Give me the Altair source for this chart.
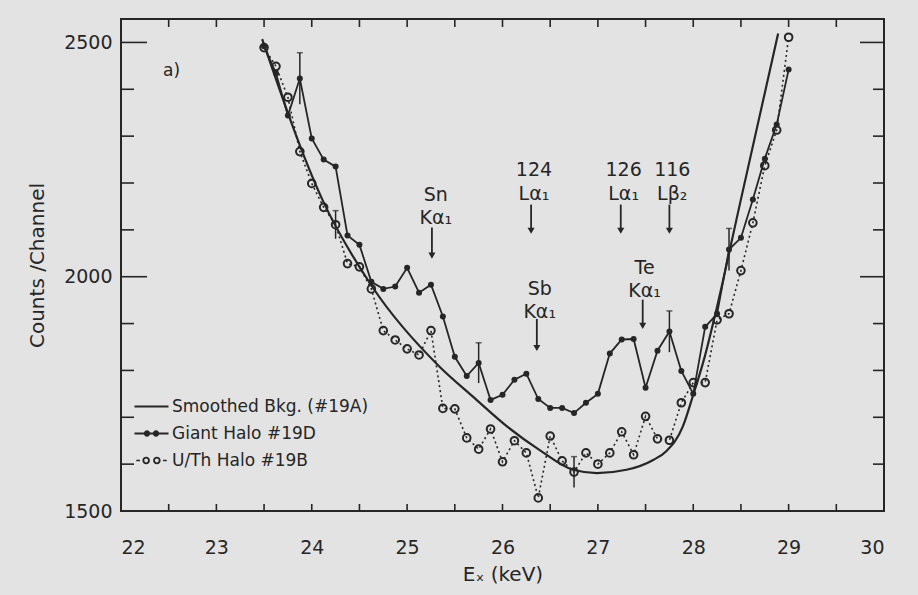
import altair as alt
import pandas as pd

INK = "#262626"
FONT = "DejaVu Sans"
W, H = 763, 492

# ---- data -------------------------------------------------------------
energy = [23.5, 23.625, 23.75, 23.875, 24.0, 24.125, 24.25, 24.375, 24.5,
          24.625, 24.75, 24.875, 25.0, 25.125, 25.25, 25.375, 25.5, 25.625,
          25.75, 25.875, 26.0, 26.125, 26.25, 26.375, 26.5, 26.625, 26.75,
          26.875, 27.0, 27.125, 27.25, 27.375, 27.5, 27.625, 27.75, 27.875,
          28.0, 28.125, 28.25, 28.375, 28.5, 28.625, 28.75, 28.875, 29.0]

giant_halo = [2492, 2434, 2344, 2423, 2295, 2250, 2235, 2088, 2068, 1989,
              1974, 1979, 2019, 1966, 1983, 1915, 1829, 1788, 1816, 1737,
              1748, 1780, 1793, 1739, 1720, 1720, 1709, 1731, 1750, 1836,
              1866, 1867, 1763, 1842, 1883, 1799, 1750, 1893, 1921, 2058,
              2083, 2165, 2252, 2325, 2442]

uth_halo = [2489, 2449, 2383, 2267, 2199, 2148, 2111, 2028, 2021, 1974,
            1885, 1865, 1846, 1833, 1885, 1719, 1718, 1656, 1632, 1675,
            1605, 1650, 1624, 1528, 1660, 1607, 1583, 1624, 1600, 1624,
            1669, 1620, 1702, 1654, 1651, 1731, 1774, 1774, 1908, 1921,
            2013, 2115, 2237, 2313, 2511]

bkg_energy = [23.48, 24.11, 24.64, 25.34, 25.69, 26.05, 26.39, 26.74, 26.99,
              27.30, 27.58, 27.72, 27.89, 28.0, 28.12, 28.23, 28.49, 28.89]
bkg_counts = [2507, 2165, 1977, 1808, 1744, 1680, 1630, 1588, 1581,
              1588, 1609, 1628, 1680, 1748, 1829, 1919, 2156, 2519]

# statistical error half-widths (counts) at selected channels
giant_err = {23.875: 55, 25.75: 43, 27.75: 44, 28.375: 45}
uth_err = {24.25: 30, 26.75: 33}

SERIES = ["Smoothed Bkg. (#19A)", "Giant Halo #19D", "U/Th Halo #19B"]

# axis ticks
x_ticks = [22, 22.5, 23, 23.5, 24, 24.5, 25, 25.5, 26, 26.5, 27, 27.5,
           28, 28.5, 29, 29.5, 30]
x_labels = [22, 23, 24, 25, 26, 27, 28, 29, 30]
y_minor = [1600, 1700, 1800, 1900, 2100, 2200, 2300, 2400]
y_major = [2000, 2500]
y_labels = [1500, 2000, 2500]

# line identifications: two text lines above a downward arrow
ann_text1 = ["Sn", "124", "Sb", "126", "116", "Te"]
ann_text2 = ["Kα₁", "Lα₁", "Kα₁", "Lα₁", "Lβ₂", "Kα₁"]
ann_label_x = [25.30, 26.33, 26.39, 27.27, 27.78, 27.49]
ann_y1 = [2175, 2227, 1974, 2227, 2227, 2019]
ann_y2 = [2126, 2177, 1925, 2177, 2177, 1970]
arrow_x = [25.26, 26.30, 26.36, 27.24, 27.75, 27.47]
arrow_top = [2105, 2154, 1910, 2154, 2154, 1951]
arrow_tip = [2045, 2098, 1848, 2098, 2098, 1895]

# ---- tables -----------------------------------------------------------
bkg_df = pd.DataFrame({"E": bkg_energy, "C": bkg_counts, "series": SERIES[0]})
giant_df = pd.DataFrame({"E": energy, "C": giant_halo, "series": SERIES[1]})
uth_df = pd.DataFrame({"E": energy, "C": uth_halo, "series": SERIES[2]})
all_df = pd.concat([bkg_df, giant_df, uth_df], ignore_index=True)

g_lookup = dict(zip(energy, giant_halo))
u_lookup = dict(zip(energy, uth_halo))
err_rows = [{"E": e, "lo": g_lookup[e] - d, "hi": g_lookup[e] + d}
            for e, d in giant_err.items()]
err_rows += [{"E": e, "lo": u_lookup[e] - d, "hi": u_lookup[e] + d}
             for e, d in uth_err.items()]
err_df = pd.DataFrame(err_rows)

ann_df = pd.DataFrame({
    "lx": ann_label_x + ann_label_x,
    "ly": ann_y1 + ann_y2,
    "txt": ann_text1 + ann_text2,
})
arrow_df = pd.DataFrame({"ax": arrow_x, "top": arrow_top, "tip": arrow_tip})

xt_df = pd.DataFrame({"t": x_ticks})
ymin_df = pd.DataFrame({"t": y_minor})
ymaj_df = pd.DataFrame({"t": y_major})

# ---- scales & axes ----------------------------------------------------
xs = alt.Scale(domain=[22, 30], nice=False, zero=False)
ys = alt.Scale(domain=[1500, 2550], nice=False, zero=False)

x_axis = alt.Axis(values=x_labels, format="d", title="Eₓ (keV)", grid=False,
                  domain=False, ticks=False, labelFont=FONT, labelFontSize=19,
                  labelColor=INK, labelPadding=27, titleFont=FONT,
                  titleFontSize=20, titleFontWeight="normal", titleColor=INK,
                  titlePadding=7)
y_axis = alt.Axis(values=y_labels, format="d", title="Counts /Channel",
                  grid=False, domain=False, ticks=False, labelFont=FONT,
                  labelFontSize=19, labelColor=INK, labelPadding=9,
                  titleFont=FONT, titleFontSize=20, titleFontWeight="normal",
                  titleColor=INK, titlePadding=16)


def X(field):
    return alt.X(f"{field}:Q", scale=xs, axis=x_axis)


def Y(field):
    return alt.Y(f"{field}:Q", scale=ys, axis=y_axis)


# ---- frame ticks (inward) ---------------------------------------------
tick_style = dict(color=INK, strokeWidth=1.6)
bottom_ticks = alt.Chart(xt_df).mark_rule(**tick_style).encode(
    x=X("t"), y=alt.value(H), y2=alt.value(H - 7))
top_ticks = alt.Chart(xt_df).mark_rule(**tick_style).encode(
    x=X("t"), y=alt.value(0), y2=alt.value(8))
left_minor = alt.Chart(ymin_df).mark_rule(**tick_style).encode(
    y=Y("t"), x=alt.value(0), x2=alt.value(13))
left_major = alt.Chart(ymaj_df).mark_rule(**tick_style).encode(
    y=Y("t"), x=alt.value(0), x2=alt.value(26))
right_minor = alt.Chart(ymin_df).mark_rule(**tick_style).encode(
    y=Y("t"), x=alt.value(W), x2=alt.value(W - 11))
right_major = alt.Chart(ymaj_df).mark_rule(**tick_style).encode(
    y=Y("t"), x=alt.value(W), x2=alt.value(W - 24))

# ---- spectra ----------------------------------------------------------
bkg_line = alt.Chart(bkg_df).mark_line(
    interpolate="monotone", color=INK, strokeWidth=2.2).encode(
    x=X("E"), y=Y("C"))

giant_line = alt.Chart(giant_df).mark_line(color=INK, strokeWidth=1.8).encode(
    x=X("E"), y=Y("C"))
giant_pts = alt.Chart(giant_df).mark_point(
    filled=True, size=36, color=INK, opacity=1).encode(x=X("E"), y=Y("C"))

uth_line = alt.Chart(uth_df).mark_line(
    color=INK, strokeWidth=1.6, strokeDash=[2, 3]).encode(x=X("E"), y=Y("C"))
uth_pts = alt.Chart(uth_df).mark_point(
    filled=False, size=58, strokeWidth=2, color=INK, opacity=1).encode(
    x=X("E"), y=Y("C"))

err_rule = alt.Chart(err_df).mark_rule(color=INK, strokeWidth=1.5).encode(
    x=X("E"), y=Y("lo"), y2="hi")
err_cap = alt.Chart(err_df).mark_tick(
    color=INK, orient="horizontal", size=6, thickness=1.5).encode(
    x=X("E"), y=Y("hi"))

# ---- line identifications ---------------------------------------------
ann_text = alt.Chart(ann_df).mark_text(
    font=FONT, fontSize=19, color=INK, align="center", baseline="middle").encode(
    x=X("lx"), y=Y("ly"), text="txt:N")
arrow_shaft = alt.Chart(arrow_df).mark_rule(color=INK, strokeWidth=1.8).encode(
    x=X("ax"), y=Y("top"), y2="tip")
arrow_head = alt.Chart(arrow_df).mark_point(
    shape="triangle-down", filled=True, size=50, color=INK, opacity=1).encode(
    x=X("ax"), y=Y("tip"))

panel_tag = alt.Chart(pd.DataFrame({"x": [22.53], "y": [2438], "s": ["a)"]})).mark_text(
    font=FONT, fontSize=17, color=INK, align="center", baseline="middle").encode(
    x=X("x"), y=Y("y"), text="s:N")

# ---- legend (custom line+marker symbols) -------------------------------
SYM_BKG = "M-1.62,-0.1H1.62V0.1H-1.62Z"
SYM_GIANT = ("M-1.62,-0.085H1.62V0.085H-1.62Z "
             "M-0.13,0A0.3,0.3 0 1,1 -0.73,0A0.3,0.3 0 1,1 -0.13,0Z "
             "M0.73,0A0.3,0.3 0 1,1 0.13,0A0.3,0.3 0 1,1 0.73,0Z")
SYM_UTH = ("M-1.45,-0.08H-1.1V0.08H-1.45Z "
           "M-0.15,0A0.36,0.36 0 1,1 -0.87,0A0.36,0.36 0 1,1 -0.15,0Z "
           "M-0.33,0A0.18,0.18 0 1,0 -0.69,0A0.18,0.18 0 1,0 -0.33,0Z "
           "M0.87,0A0.36,0.36 0 1,1 0.15,0A0.36,0.36 0 1,1 0.87,0Z "
           "M0.69,0A0.18,0.18 0 1,0 0.33,0A0.18,0.18 0 1,0 0.69,0Z "
           "M1.1,-0.08H1.45V0.08H1.1Z")

legend_layer = alt.Chart(all_df).mark_point(
    filled=True, opacity=0, color=INK).encode(
    x=X("E"), y=Y("C"),
    shape=alt.Shape("series:N",
                    scale=alt.Scale(domain=SERIES,
                                    range=[SYM_BKG, SYM_GIANT, SYM_UTH]),
                    sort=SERIES,
                    legend=alt.Legend(title=None, orient="none", legendX=20,
                                      legendY=377, padding=0,
                                      symbolSize=441, symbolOpacity=1,
                                      symbolFillColor=INK, symbolStrokeWidth=0,
                                      labelFont=FONT, labelFontSize=17,
                                      labelColor=INK, labelOffset=10,
                                      labelLimit=0, rowPadding=8)))

chart = alt.layer(
    bottom_ticks, top_ticks, left_minor, left_major, right_minor, right_major,
    bkg_line, uth_line, giant_line, err_rule, err_cap, uth_pts, giant_pts,
    arrow_shaft, arrow_head, ann_text, panel_tag, legend_layer,
).properties(
    width=W, height=H,
    autosize=alt.AutoSizeParams(type="none"),
    padding={"left": 121, "top": 19, "right": 34, "bottom": 84},
    background="#e3e3e3",
).configure_view(stroke=INK, strokeWidth=2)

chart.save("out.html", embed_options={"renderer": "svg", "actions": False})
